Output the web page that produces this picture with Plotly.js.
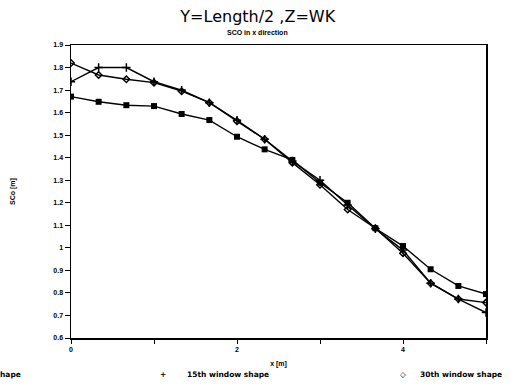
<!DOCTYPE html>
<html>
<head>
<meta charset="utf-8">
<script src="https://cdn.plot.ly/plotly-3.0.1.min.js"></script>
<style>html,body{margin:0;padding:0;background:#fff;}#chart{width:514px;height:392px;}</style>
</head>
<body>
<div id="chart"></div>
<script>
// x positions [m]
const xVals = [0, 0.333, 0.667, 1, 1.333, 1.667, 2, 2.333, 2.667, 3, 3.333, 3.667, 4, 4.333, 4.667, 5];
// SCo [m] for each window shape
const sco1st  = [1.671, 1.648, 1.633, 1.629, 1.594, 1.567, 1.493, 1.437, 1.390, 1.289, 1.200, 1.087, 1.008, 0.905, 0.831, 0.795];
const sco15th = [1.737, 1.800, 1.800, 1.737, 1.700, 1.644, 1.566, 1.482, 1.385, 1.300, 1.190, 1.085, 0.990, 0.843, 0.773, 0.713];
const sco30th = [1.820, 1.767, 1.748, 1.733, 1.695, 1.644, 1.562, 1.482, 1.378, 1.280, 1.170, 1.087, 0.976, 0.843, 0.773, 0.757];
const seriesNames = ["1st window shape", "15th window shape", "30th window shape"];
const legendSymbols = ["\u25A0", "+", "\u25C7"];
const yTickVals = [0.6, 0.7, 0.8, 0.9, 1.0, 1.1, 1.2, 1.3, 1.4, 1.5, 1.6, 1.7, 1.8, 1.9];
const yTickText = ["0.6", "0.7", "0.8", "0.9", "1", "1.1", "1.2", "1.3", "1.4", "1.5", "1.6", "1.7", "1.8", "1.9"];
const xTickVals = [0, 1, 2, 3, 4, 5];
const xTickText = ["0", "", "2", "", "4", ""];
const mainTitle = "Y=Length/2 ,Z=WK";
const subTitle = "SCO in x direction";

const FAM = "Liberation Sans, Arial, sans-serif";
const small = {family: FAM, size: 7, color: "#000", weight: "bold"};
const legFont = {family: "DejaVu Sans, sans-serif", size: 7.5, color: "#000", weight: "bold"};

const traces = [
  {x: xVals, y: sco1st, name: seriesNames[0], mode: "lines+markers",
   line: {color: "#000", width: 1.4}, marker: {symbol: "square", size: 6, color: "#000"}},
  {x: xVals, y: sco15th, name: seriesNames[1], mode: "lines+markers",
   line: {color: "#000", width: 1.4}, marker: {symbol: "cross-thin", size: 6, color: "#000", line: {color: "#000", width: 1.5}}},
  {x: xVals, y: sco30th, name: seriesNames[2], mode: "lines+markers",
   line: {color: "#000", width: 1.4}, marker: {symbol: "diamond-open", size: 5, color: "#000", line: {color: "#000", width: 1.5}}}
];

// legend row (drawn as annotations, reading names/symbols from the arrays above)
const legY = -0.123;
const legendAnn = [
  {text: legendSymbols[0] + "      " + seriesNames[0], x: -0.115, xanchor: "right"},
  {text: legendSymbols[1], x: 0.221, xanchor: "center"},
  {text: seriesNames[1], x: 0.275, xanchor: "left"},
  {text: legendSymbols[2], x: 0.80, xanchor: "center"},
  {text: seriesNames[2], x: 0.835, xanchor: "left"}
].map(a => Object.assign({xref: "paper", yref: "paper", y: legY, yanchor: "middle",
                          showarrow: false, font: legFont}, a));

const layout = {
  width: 514, height: 392,
  paper_bgcolor: "#fff", plot_bgcolor: "#fff",
  margin: {l: 71, r: 28, t: 45, b: 54, autoexpand: false},
  title: {text: mainTitle,
          font: {family: "DejaVu Sans, sans-serif", size: 16, color: "#000"},
          x: 0.45, xanchor: "center", xref: "paper", y: 0.957, yanchor: "middle", yref: "container"},
  annotations: [
    {text: subTitle, xref: "paper", yref: "paper", x: 0.45, y: 1.041, xanchor: "center", yanchor: "middle",
     showarrow: false, font: small}
  ].concat(legendAnn),
  xaxis: {range: [0, 5], tickvals: xTickVals, ticktext: xTickText, ticks: "outside", ticklen: 4,
          tickcolor: "#000", showgrid: false, zeroline: false, showline: true, mirror: true,
          linecolor: "#000", linewidth: 1.5, tickfont: small,
          title: {text: "x [m]", font: small, standoff: 9}},
  yaxis: {range: [0.6, 1.9], tickvals: yTickVals, ticktext: yTickText, ticks: "outside", ticklen: 5,
          tickcolor: "#000", showgrid: false, zeroline: false, showline: true, mirror: true,
          linecolor: "#000", linewidth: 1.5, tickfont: small,
          title: {text: "SCo [m]", font: small, standoff: 37}},
  showlegend: false
};

Plotly.newPlot("chart", traces, layout, {displayModeBar: false, staticPlot: true});
</script>
</body>
</html>
